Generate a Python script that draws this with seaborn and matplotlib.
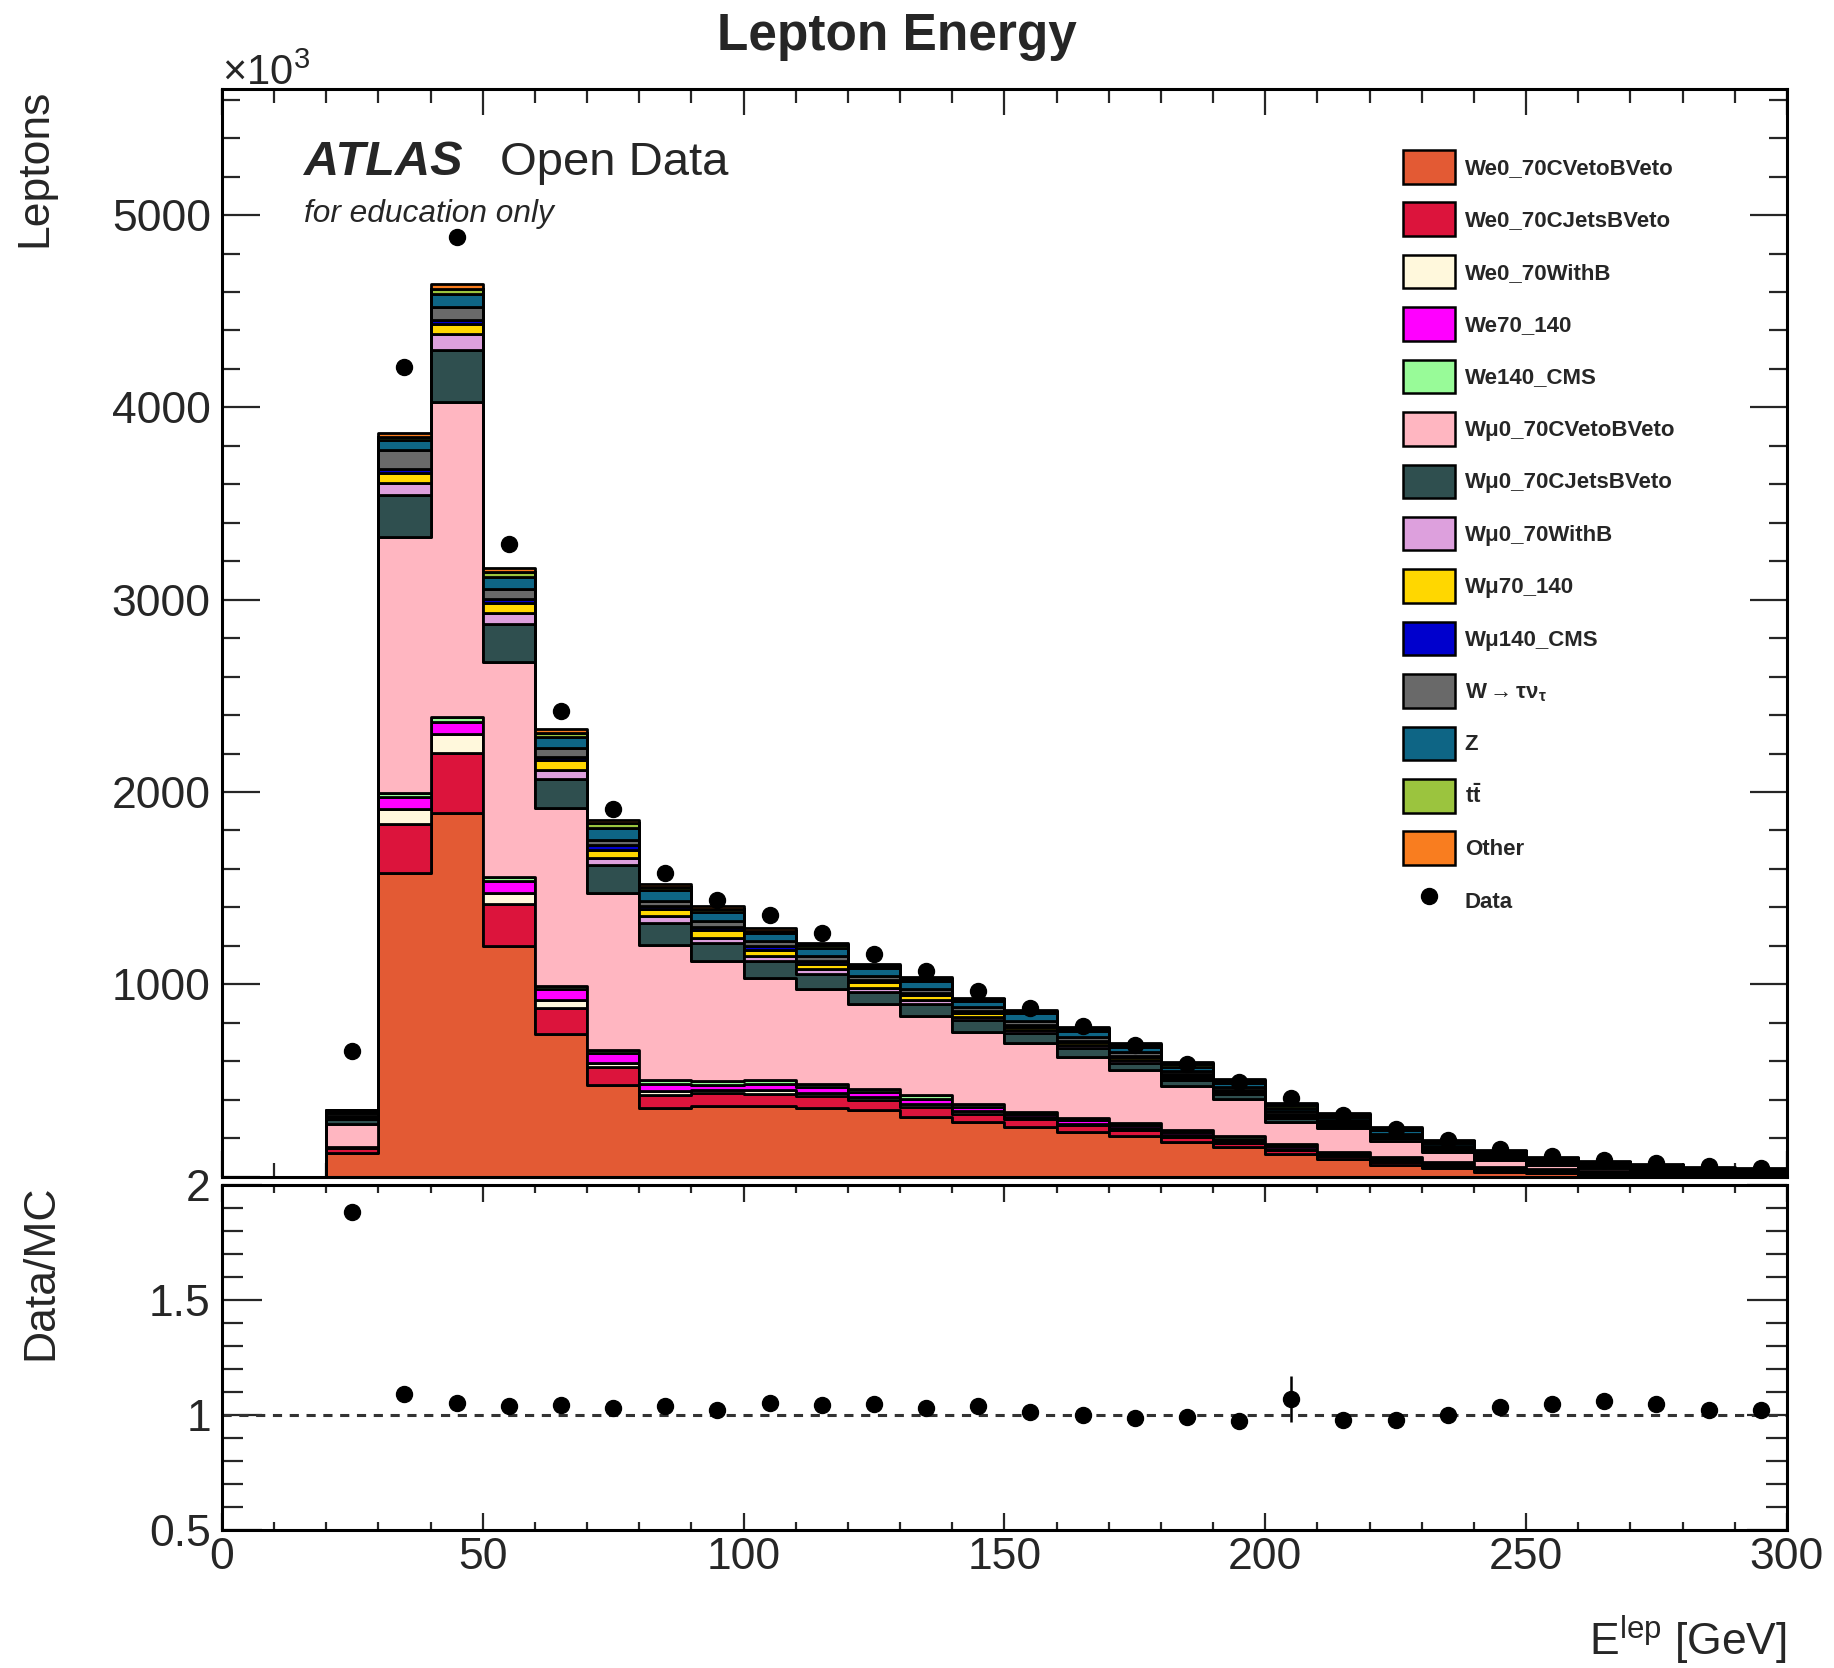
"""
Lepton energy stacked MC histogram with data and Data/MC ratio (ATLAS Open Data style)
"""
import numpy as np
import pandas as pd
import matplotlib
matplotlib.use('Agg')
import matplotlib.pyplot as plt
from matplotlib.patches import Patch
from matplotlib.lines import Line2D
from matplotlib.ticker import MultipleLocator, FixedLocator, FuncFormatter
import seaborn as sns

# ---- data (values in units of 10^3 leptons) ----
bin_edges = list(range(0, 310, 10))
bin_lo = list(range(20, 300, 10))

samples = ["We0_70CVetoBVeto", "We0_70CJetsBVeto", "We0_70WithB", "We70_140", "We140_CMS",
           "Wμ0_70CVetoBVeto", "Wμ0_70CJetsBVeto", "Wμ0_70WithB", "Wμ70_140", "Wμ140_CMS",
           "Wtaunu", "Z", "ttbar", "Other"]
legend_labels = ["We0_70CVetoBVeto", "We0_70CJetsBVeto", "We0_70WithB", "We70_140", "We140_CMS",
                 "Wμ0_70CVetoBVeto", "Wμ0_70CJetsBVeto", "Wμ0_70WithB", "Wμ70_140", "Wμ140_CMS",
                 r"W$\mathregular{\rightarrow\tau\nu_{\tau}}$", "Z", r"t$\mathbf{\bar{t}}$", "Other"]
sample_colors = ["#E35A34", "#DC143C", "#FFF8DC", "#FF00FF", "#98FB98",
                 "#FFB6C1", "#2F4F4F", "#DDA0DD", "#FFD700", "#0000CD",
                 "#696969", "#0E6585", "#9BC43E", "#F97D1F"]

we0_cveto = [125, 1577, 1892, 1201, 740, 477, 355, 368, 366, 355, 346, 310, 282, 260,
             230, 213, 182, 156, 118, 90, 61, 43, 26, 17, 9, 5, 3, 2]
we0_cjets = [25, 255, 312, 215, 135, 95, 68, 66, 63, 63, 54, 52, 46, 38,
             36, 30, 25, 20, 21, 17, 15, 12, 9, 8, 7, 5, 4, 3]
we0_withb = [3, 78, 100, 60, 43, 17, 20, 15, 20, 18, 14, 14, 12, 10,
             10, 9, 8, 7, 7, 6, 6, 5, 4, 4, 3, 3, 2, 2]
we70_140 = [2, 62, 61, 63, 56, 52, 40, 28, 30, 32, 25, 25, 22, 18,
            18, 16, 16, 15, 12, 9, 10, 8, 7, 6, 6, 5, 4, 3]
we140_cms = [1, 21, 26, 20, 17, 17, 18, 20, 23, 11, 17, 22, 15, 9,
             9, 9, 12, 13, 12, 8, 8, 6, 6, 5, 5, 4, 4, 3]
wm0_cveto = [115, 1332, 1637, 1118, 924, 815, 702, 622, 531, 497, 441, 413, 373, 358,
             321, 277, 228, 191, 116, 121, 87, 56, 35, 21, 13, 8, 5, 4]
wm0_cjets = [30, 217, 272, 199, 151, 147, 118, 94, 86, 79, 63, 61, 64, 52,
             43, 39, 30, 25, 20, 14, 12, 10, 8, 7, 5, 4, 3, 3]
wm0_withb = [8, 66, 80, 55, 48, 35, 33, 30, 27, 23, 23, 23, 18, 17,
             15, 12, 11, 9, 8, 7, 5, 4, 3, 3, 2, 2, 2, 1]
wm70_140 = [5, 52, 52, 52, 52, 43, 40, 38, 34, 29, 27, 22, 20, 18,
            16, 15, 12, 10, 8, 7, 6, 5, 4, 3, 3, 2, 2, 2]
wm140_cms = [2, 21, 21, 23, 17, 26, 15, 18, 20, 15, 14, 12, 10, 9,
             8, 8, 7, 6, 5, 4, 4, 3, 3, 2, 2, 2, 2, 2]
wtaunu = [15, 95, 69, 52, 44, 26, 22, 28, 25, 24, 20, 22, 19, 20,
          20, 18, 16, 12, 12, 10, 10, 9, 8, 7, 6, 6, 5, 4]
zjets = [12, 52, 69, 61, 60, 61, 58, 51, 40, 45, 41, 41, 34, 40,
         33, 27, 25, 21, 20, 19, 17, 15, 12, 9, 8, 7, 5, 5]
ttbar = [3, 17, 26, 26, 21, 29, 16, 14, 14, 12, 11, 12, 8, 9,
         11, 10, 11, 10, 11, 8, 7, 7, 7, 6, 6, 6, 5, 5]
other = [2, 21, 23, 22, 17, 14, 18, 14, 14, 11, 11, 11, 8, 8,
         10, 10, 11, 11, 11, 9, 8, 8, 7, 6, 6, 7, 6, 5]

data = [655, 4210, 4885, 3288, 2422, 1911, 1581, 1438, 1358, 1267, 1160, 1069, 967, 876,
        781, 683, 588, 492, 407, 322, 250, 191, 144, 109, 86, 69, 53, 45]
# relative MC statistical uncertainty used for the ratio error bars
ratio_err = [0.01, 0.004, 0.004, 0.004, 0.005, 0.005, 0.005, 0.005, 0.005, 0.005, 0.005, 0.005, 0.006, 0.006,
             0.006, 0.007, 0.008, 0.009, 0.10, 0.01, 0.01, 0.012, 0.014, 0.016, 0.018, 0.02, 0.022, 0.025]

mc_values = [we0_cveto, we0_cjets, we0_withb, we70_140, we140_cms,
             wm0_cveto, wm0_cjets, wm0_withb, wm70_140, wm140_cms,
             wtaunu, zjets, ttbar, other]

# ---- build long table for seaborn ----
centers = np.array(bin_lo) + 5
rows = []
for name, vals in zip(samples, mc_values):
    for c, v in zip(centers, vals):
        rows.append({"x": c, "w": v, "sample": name})
df = pd.DataFrame(rows)

mc_total = np.sum(np.array(mc_values), axis=0)
ratio = np.array(data) / mc_total

# ---- style ----
sns.set_style("white")
plt.rcParams['font.family'] = ['Liberation Sans', 'DejaVu Sans']
plt.rcParams['mathtext.fontset'] = 'custom'
plt.rcParams['mathtext.rm'] = 'Liberation Sans'
plt.rcParams['mathtext.it'] = 'Liberation Sans:italic'
plt.rcParams['mathtext.bf'] = 'Liberation Sans:bold'

fig = plt.figure(figsize=(18.34, 16.68), dpi=100)
ax = fig.add_axes([0.1210, 0.2946, 0.8533, 0.6521])
ax_r = fig.add_axes([0.1210, 0.0828, 0.8533, 0.2068], sharex=ax)

palette = dict(zip(samples, sample_colors))
# seaborn stacks the last hue level at the bottom; step element gives ROOT-like outlines
sns.histplot(data=df, x="x", weights="w", hue="sample", hue_order=samples[::-1],
             multiple="stack", element="step", bins=bin_edges, palette=palette, alpha=1,
             edgecolor="black", linewidth=2.0, legend=False, ax=ax)

ax.plot(centers, data, 'o', color='black', ms=11.5, zorder=5)

ax.set_xlim(0, 300)
ax.set_ylim(0, 5656)
ax.set_xlabel('')
ax.set_ylabel('')

tick_fs = 32
for a in (ax, ax_r):
    for s in a.spines.values():
        s.set_linewidth(2.2)
        s.set_color('black')

ax.xaxis.set_major_locator(MultipleLocator(50))
ax.xaxis.set_minor_locator(MultipleLocator(10))
ax.yaxis.set_major_locator(MultipleLocator(1000))
ax.yaxis.set_minor_locator(MultipleLocator(200))
ax.yaxis.set_major_formatter(FuncFormatter(lambda v, p: '' if v == 0 else f"{int(v)}"))
ax.tick_params(axis='x', which='major', direction='in', length=19, width=1.6, top=True, bottom=True,
               labelbottom=False)
ax.tick_params(axis='x', which='minor', direction='in', length=10, width=1.6, top=True, bottom=True)
ax.tick_params(axis='y', which='major', direction='in', length=27, width=1.6, left=True, right=True,
               labelsize=tick_fs, pad=8)
ax.tick_params(axis='y', which='minor', direction='in', length=13, width=1.6, left=True, right=True)

# ---- ratio panel ----
ax_r.axhline(1.0, color='#333333', lw=2.2, ls=(0, (3, 2.5)), zorder=1)
ax_r.errorbar(centers, ratio, yerr=ratio_err, fmt='o', color='black', ms=11.5,
              elinewidth=1.8, capsize=0, zorder=5)
ax_r.set_ylim(0.5, 2.0)
ax_r.yaxis.set_major_locator(FixedLocator([0.5, 1.0, 1.5, 2.0]))
ax_r.yaxis.set_major_formatter(FuncFormatter(lambda v, p: f"{v:g}"))
ax_r.yaxis.set_minor_locator(MultipleLocator(0.1))
ax_r.tick_params(axis='x', which='major', direction='in', length=12, width=1.6, top=True, bottom=True,
                 labelsize=tick_fs, pad=5)
ax_r.tick_params(axis='x', which='minor', direction='in', length=6, width=1.6, top=True, bottom=True)
ax_r.tick_params(axis='y', which='major', direction='in', length=29, width=1.6, left=True, right=True,
                 labelsize=tick_fs, pad=8)
ax_r.tick_params(axis='y', which='minor', direction='in', length=15, width=1.6, left=True, right=True)

# ---- labels ----
fig.text(0.489, 0.978, "Lepton Energy", fontsize=37, fontweight='bold', ha='center', va='center')
ax.text(0.0, 1.004, r"$\times10^{3}$", transform=ax.transAxes, fontsize=30, ha='left', va='baseline')
fig.text(0.019, 0.947, "Leptons", fontsize=32, rotation=90, ha='center', va='top')
fig.text(0.0224, 0.2896, "Data/MC", fontsize=32, rotation=90, ha='center', va='top')
ax_r.set_xlabel(r"E$^{\mathregular{lep}}$ [GeV]", fontsize=32, loc='right', labelpad=26)

ax.text(0.0524, 0.921, "ATLAS", transform=ax.transAxes, fontsize=35, fontweight='bold',
        fontstyle='italic', ha='left', va='baseline')
ax.text(0.178, 0.921, "Open Data", transform=ax.transAxes, fontsize=34, ha='left', va='baseline')
ax.text(0.0524, 0.878, "for education only", transform=ax.transAxes, fontsize=22.8,
        fontstyle='italic', ha='left', va='baseline')

# ---- legend ----
handles = [Patch(facecolor=c, edgecolor='black', linewidth=1.8) for c in sample_colors]
handles.append(Line2D([], [], marker='o', color='black', ls='none', ms=11.5))
labels = legend_labels + ["Data"]
ax.legend(handles, labels, loc='upper left', bbox_to_anchor=(0.755, 0.9438), frameon=False,
          prop={'weight': 'bold', 'size': 16}, handlelength=2.34, handleheight=1.944,
          labelspacing=0.85, handletextpad=0.42, borderpad=0, borderaxespad=0)

fig.savefig("out.png", dpi=100)
plt.close(fig)
